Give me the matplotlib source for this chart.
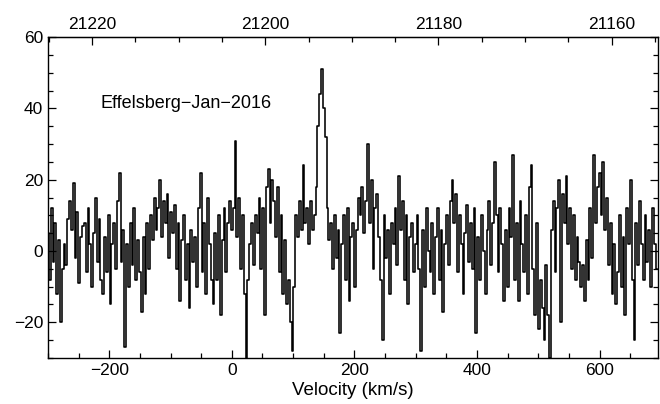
import numpy as np
import matplotlib

matplotlib.use('Agg')
import matplotlib.pyplot as plt
from matplotlib.ticker import MultipleLocator, FixedLocator

plt.rcParams['font.family'] = ['Liberation Sans', 'DejaVu Sans']

# spectrum: channel velocities start at -300 km/s, 3 km/s per channel
v_start = -300.0
chan_width = 3.0
flux = [
    5, -8, 12, -3, 8, -12, 3, -20, -5, 2,
    -4, 9, 14, 6, 19, -2, 11, -9, 4, 7,
    8, -6, 12, 2, -10, 5, 15, -3, 9, -8,
    -12, 4, -6, 10, -15, 2, 8, -5, 14, 22,
    -3, 6, -27, 2, -10, 8, -4, 12, -8, 3,
    -6, -17, 4, -12, 8, -5, 10, 3, 15, 6,
    12, 20, 4, 14, 8, 16, -2, 11, 5, 13,
    -5, 8, -14, 3, 10, -8, 2, -16, 6, -3,
    4, -10, 12, 22, -6, 8, -12, 15, 2, -8,
    -15, 5, -8, 10, -18, 3, 12, -6, 8, 14,
    6, 12, 31, 4, 15, -5, 10, -12, -30, -8,
    2, 8, -4, 10, 5, 15, -5, 12, -18, 18,
    23, 8, 20, 14, 4, 18, -6, 10, -12, 3,
    -15, -8, -20, -28, -10, 10, 4, 14, 6, 24,
    8, 12, 2, 14, 6, 10, 18, 35, 44, 51,
    40, 32, 12, 3, 8, -5, 10, -2, 6, -23,
    2, 10, -8, 12, -14, 4, 8, -10, 6, 15,
    10, 18, 5, 14, 30, 8, 20, -5, 12, 16,
    4, -8, -25, 10, -2, 6, -12, 8, 2, 12,
    -4, 21, 6, 14, -8, 10, -15, 4, 8, -6,
    2, 10, -5, -28, 6, -10, 12, 0, -6, 8,
    -12, 4, 12, -8, 6, -17, 2, 10, -4, 14,
    20, 8, 16, -6, 10, 2, -12, 5, 13, -3,
    8, -5, 12, -23, 4, -8, 10, 0, -12, 6,
    14, -4, 8, 25, 10, -6, 12, 2, -14, 6,
    -10, 12, 4, 27, -8, 8, -14, 14, 2, -6,
    10, -12, 18, 24, -5, -18, 8, -22, -8, -16,
    -25, -4, -18, -30, 6, 14, -6, 12, 20, -20,
    16, 8, 21, 2, 12, -5, 10, -8, 4, -3,
    -10, -4, -14, 3, -8, 12, -2, 27, 8, 18,
    22, 10, 25, 6, 15, -4, 8, -12, 2, -15,
    -6, 10, -10, 4, -18, 12, 2, 20, -8, -25,
    8, -4, 14, 2, -8, 10, -3, 6, -10, 12, 2, -5,
]
vel = v_start + chan_width * np.arange(len(flux))

x_lim = (-300, 695)
y_lim = (-30, 60)
freq_ticks = [21220, 21200, 21180, 21160]
freq_minor = [21225, 21215, 21210, 21205, 21195, 21190, 21185, 21175,
              21170, 21165, 21155]
label_text = 'Effelsberg\u2212Jan\u22122016'

# sky frequency (MHz) vs velocity
f_ref = 21200.0
v_ref = 54.6
kms_per_mhz = 14.125


def vel_to_freq(v):
    return f_ref - (np.asarray(v) - v_ref) / kms_per_mhz


def freq_to_vel(f):
    return v_ref + (f_ref - np.asarray(f)) * kms_per_mhz


fig = plt.figure(figsize=(6.6, 4.04), dpi=100)
ax = fig.add_axes([0.0727, 0.114, 0.924, 0.794])

ax.step(vel, flux, where='mid', color='black', linewidth=1.15)

ax.set_xlim(*x_lim)
ax.set_ylim(*y_lim)
ax.xaxis.set_major_locator(MultipleLocator(200))
ax.xaxis.set_minor_locator(MultipleLocator(50))
ax.yaxis.set_major_locator(MultipleLocator(20))
ax.yaxis.set_minor_locator(MultipleLocator(5))
ax.tick_params(which='both', direction='in', right=True, top=False, labelsize=12.5, width=0.9)
ax.tick_params(which='major', length=6)
ax.tick_params(which='minor', length=3.5)
ax.set_xlabel('Velocity (km/s)', fontsize=13.5, labelpad=3)

top = ax.secondary_xaxis('top', functions=(vel_to_freq, freq_to_vel))
top.xaxis.set_major_locator(FixedLocator(freq_ticks))
top.xaxis.set_minor_locator(FixedLocator(freq_minor))
top.tick_params(which='both', direction='in', labelsize=12.5, width=0.9)
top.tick_params(which='major', length=6)
top.tick_params(which='minor', length=3.5)

for s in ax.spines.values():
    s.set_linewidth(1.0)

ax.text(-214, 41.5, label_text, fontsize=13, va='center', ha='left')

fig.savefig('out.png', dpi=100)
